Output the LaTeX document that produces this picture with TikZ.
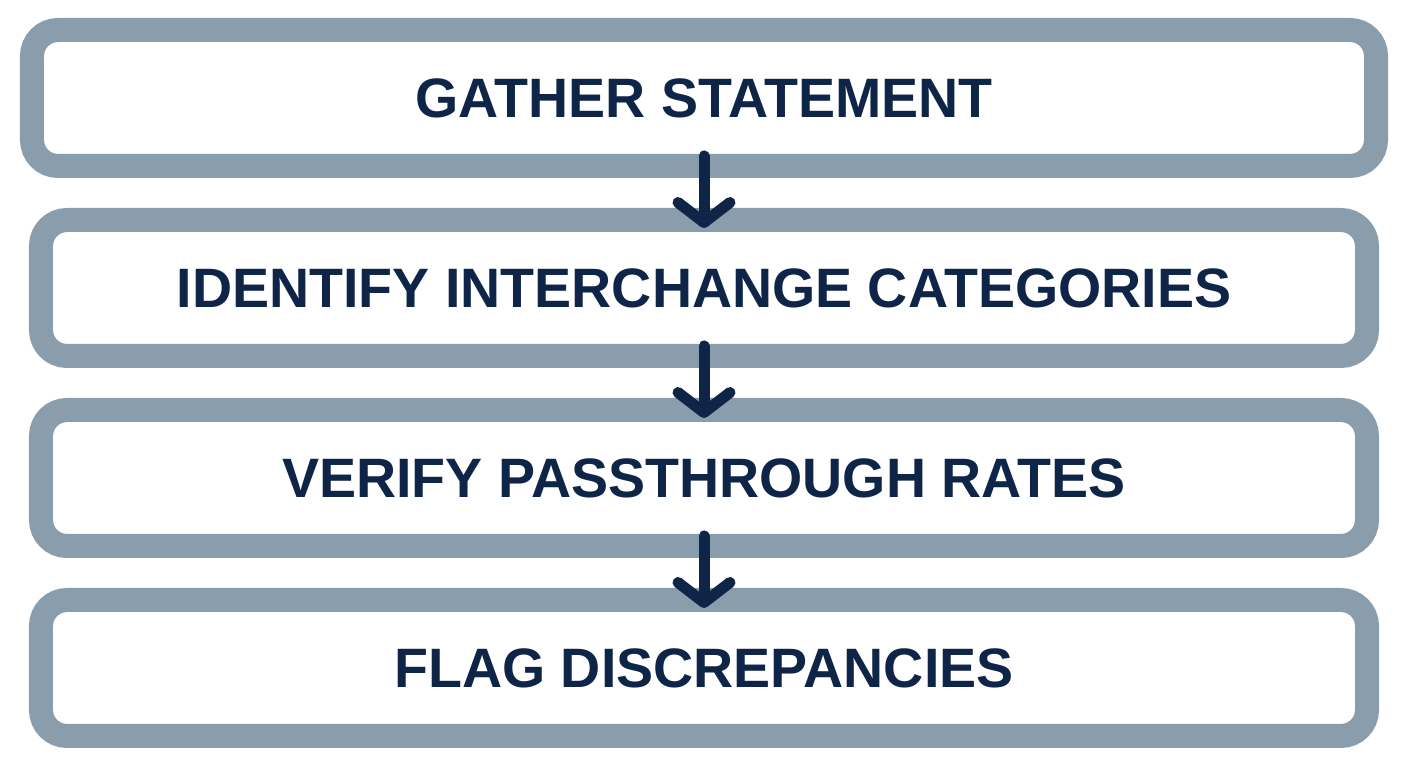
\documentclass[tikz,border=0pt]{standalone}
\usepackage{fontspec}
\setmainfont{Liberation Sans}
\usetikzlibrary{positioning, arrows.meta}
\definecolor{frame}{HTML}{8A9DAD}
\definecolor{navy}{HTML}{0E2548}
\begin{document}
\begin{tikzpicture}
\tikzset{
    stage/.style={
        draw=frame,
        fill=white,
        line width=0.24cm,
        rounded corners=0.26cm,
        outer sep=0pt,
        minimum width=13.26cm,
        minimum height=1.36cm,
        text=navy,
        font=\fontsize{15.8}{19}\selectfont\bfseries,
    },
    flow/.style={
        draw=navy,
        line width=0.11cm,
        line cap=round,
        -{Straight Barb[length=0.2cm, width=0.52cm, line cap=round, round]},
        shorten <=-0.1cm,
        shorten >=-0.08cm,
    },
    node distance=0.54cm,
}
    \useasboundingbox (0,0) rectangle (14.08,7.68);

    \node[stage, minimum width=13.44cm] (gather) at (7.04,6.7) {GATHER STATEMENT};
    \node[stage] (identify) [below=of gather] {IDENTIFY INTERCHANGE CATEGORIES};
    \node[stage] (verify) [below=of identify] {VERIFY PASSTHROUGH RATES};
    \node[stage] (flag) [below=of verify] {FLAG DISCREPANCIES};

    % arrows
    \draw[flow] (gather) -- (identify);
    \draw[flow] (identify) -- (verify);
    \draw[flow] (verify) -- (flag);

\end{tikzpicture}
\end{document}
